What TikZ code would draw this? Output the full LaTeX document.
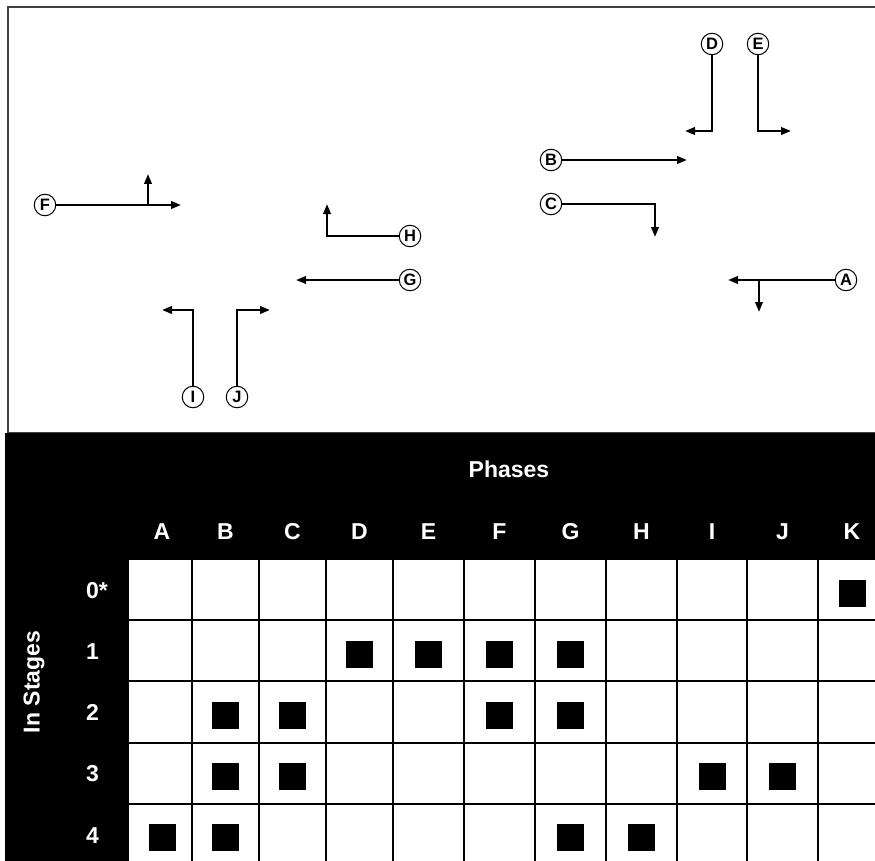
\documentclass[tikz,border=0pt]{standalone}
\usepackage{fontspec}
\setmainfont{Liberation Sans}
\usetikzlibrary{arrows.meta}
\begin{document}
\begin{tikzpicture}[x=1pt,y=-1pt,
  lbl/.style={circle,draw,line width=1pt,minimum size=21.5pt,inner sep=0pt,fill=white,font=\fontsize{16.5}{16.5}\selectfont\bfseries},
  arr/.style={line width=2.2pt,-{Triangle[length=10pt,width=7.5pt]}},
  head/.style={text=white,font=\fontsize{23}{27}\selectfont\bfseries,inner sep=0pt},
  sqmark/.style={fill=black,minimum size=27pt,inner sep=0pt},
  gline/.style={line width=2.5pt}]
\useasboundingbox (0,0) rectangle (875,861);
\clip (0,0) rectangle (875,861);
% top frame
\draw[black!75,line width=1.5pt] (8,7) rectangle (890,433);
% circles
\node[lbl] (D) at (712,44) {D};
\node[lbl] (E) at (758,44) {E};
\node[lbl] (B) at (551,160) {B};
\node[lbl] (C) at (551,204) {C};
\node[lbl] (A) at (846,280) {A};
\node[lbl] (F) at (45,205) {F};
\node[lbl] (H) at (410,236) {H};
\node[lbl] (G) at (410,280) {G};
\node[lbl] (I) at (193,397) {I};
\node[lbl] (J) at (237,397) {J};
% end coordinates
\coordinate (Dt) at (685,131);
\coordinate (Et) at (791,131);
\coordinate (Bt) at (687,160);
\coordinate (Ct) at (655,237);
\coordinate (At) at (728,280);
\coordinate (Ab) at (759,280);
\coordinate (Ad) at (759,312);
\coordinate (Ft) at (181,205);
\coordinate (Fb) at (148,205);
\coordinate (Fu) at (148,174);
\coordinate (Ht) at (327,204);
\coordinate (Gt) at (296,280);
\coordinate (It) at (162,310);
\coordinate (Jt) at (270,310);
% connectors
\draw[arr] (D.south) |- (Dt);
\draw[arr] (E.south) |- (Et);
\draw[arr] (B.east) -- (Bt);
\draw[arr] (C.east) -| (Ct);
\draw[arr] (A.west) -- (At);
\draw[arr] (Ab) -- (Ad);
\draw[arr] (F.east) -- (Ft);
\draw[arr] (Fb) -- (Fu);
\draw[arr] (H.west) -| (Ht);
\draw[arr] (G.west) -- (Gt);
\draw[arr] (I.north) |- (It);
\draw[arr] (J.north) |- (Jt);
% table
\fill[black] (5,433) rectangle (890,870);
\fill[white] (129,560) rectangle (890,870);
\foreach \x in {192,259,326,393,464,535,606,677,747,818}
  \draw[gline] (\x,560) -- (\x,870);
\foreach \y in {620,681,743,804}
  \draw[gline] (129,\y) -- (890,\y);
\node[head,anchor=base] (ph) at (509,477) {Phases};
\foreach \l/\x in {A/162,B/225.5,C/292.5,D/359.5,E/428.5,F/499.5,G/570.5,H/641.5,I/712,J/782.5,K/852}
  \node[head,anchor=base] (col\l) at (\x,539) {\l};
\foreach \s/\y in {0*/598,1/659,2/720,3/781,4/843}
  \node[head,anchor=base west] (row\y) at (86,\y) {\s};
\node[head,rotate=90] (st) at (34,682) {In Stages};
% marks
\foreach \x/\y [count=\i] in {852/593,
  359.5/654,428.5/654,499.5/654,570.5/654,
  225.5/715,292.5/715,499.5/715,570.5/715,
  225.5/776,292.5/776,712/776,782.5/776,
  162/837,225.5/837,570.5/837,641.5/837}
  \node[sqmark] (m\i) at (\x,\y) {};
\end{tikzpicture}
\end{document}
